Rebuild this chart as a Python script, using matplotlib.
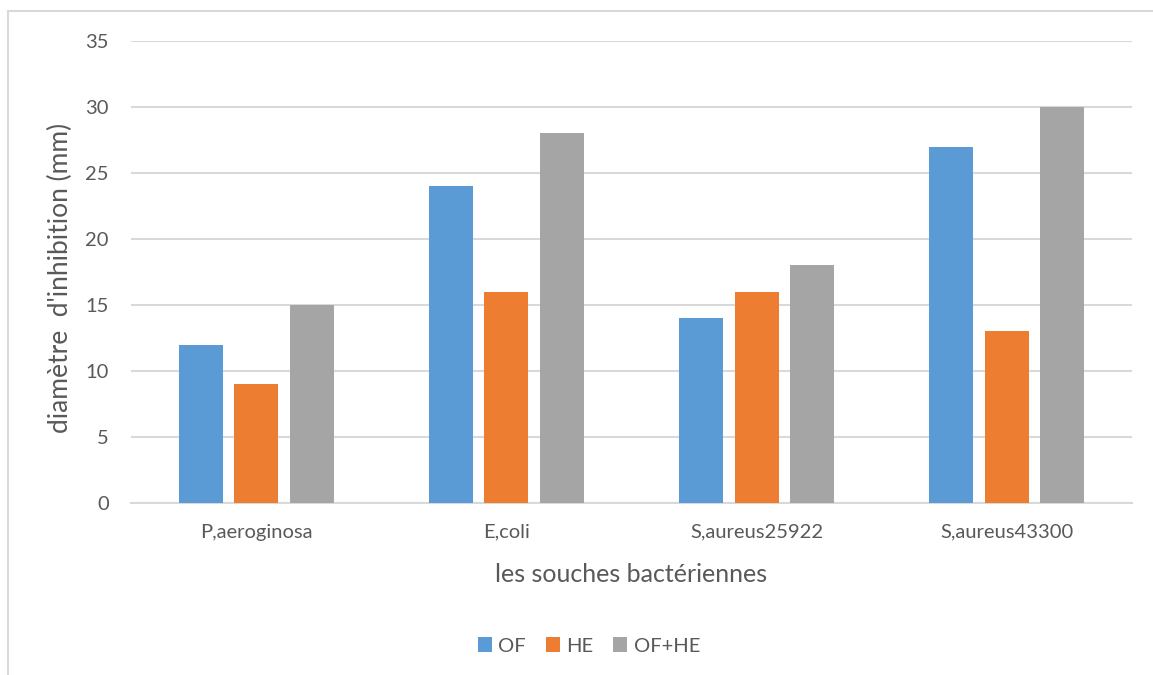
import numpy as np
import matplotlib.pyplot as plt
from matplotlib.patches import Rectangle

# -----------------------------
# Data
# -----------------------------
souches = ['P,aeroginosa', 'E,coli', 'S,aureus25922', 'S,aureus43300']
of_vals = [12, 24, 14, 27]
he_vals = [9, 16, 16, 13]
ofhe_vals = [15, 28, 18, 30]
series_names = ['OF', 'HE', 'OF+HE']

colors = ['#5B9BD5', '#ED7D31', '#A5A5A5']
text_col = '#595959'

plt.rcParams['font.family'] = ['Lato', 'DejaVu Sans']

fig = plt.figure(figsize=(11.53, 6.75), dpi=100)
W, H = 1153, 675

# chart frame (only left and top edges show)
fig.patches.append(Rectangle((8 / W, -0.1), 1.2, (675 - 11) / H + 0.1,
                             transform=fig.transFigure, fill=False,
                             edgecolor='#D9D9D9', linewidth=1.5))

ax = fig.add_axes([131 / W, 1 - 503 / H, (1132 - 131) / W, (503 - 41) / H])

x = np.arange(len(souches))
width = 0.176
step = 0.222
for i, (vals, name) in enumerate(zip([of_vals, he_vals, ofhe_vals], series_names)):
    ax.bar(x + (i - 1) * step, vals, width, color=colors[i], label=name, zorder=3)

ax.set_xlim(-0.5, len(souches) - 0.5)
ax.set_ylim(0, 35)
ax.set_yticks(range(0, 36, 5))
ax.set_xticks(x)
ax.set_xticklabels(souches)
ax.grid(axis='y', color='#D9D9D9', linewidth=1.5, zorder=0)
for s in ['top', 'right', 'left']:
    ax.spines[s].set_visible(False)
ax.spines['bottom'].set_color('#D9D9D9')
ax.spines['bottom'].set_linewidth(1.5)
ax.tick_params(axis='both', length=0, labelsize=14.5, colors=text_col)
ax.tick_params(axis='y', pad=16)
ax.tick_params(axis='x', pad=15)

ax.set_xlabel('les souches bactériennes', fontsize=18, color=text_col, labelpad=16)
ax.set_ylabel("diamètre  d'inhibition (mm)", fontsize=19, color=text_col, labelpad=6)
ax.yaxis.set_label_coords(-0.058, 0.487)

ax.legend(loc='center', bbox_to_anchor=(589 / W, 1 - 646 / H), bbox_transform=fig.transFigure,
          ncol=3, frameon=False, fontsize=14.5, handlelength=0.7, handleheight=0.7,
          handletextpad=0.3, columnspacing=1.0, labelcolor=text_col)

plt.savefig('out.png', dpi=100)
